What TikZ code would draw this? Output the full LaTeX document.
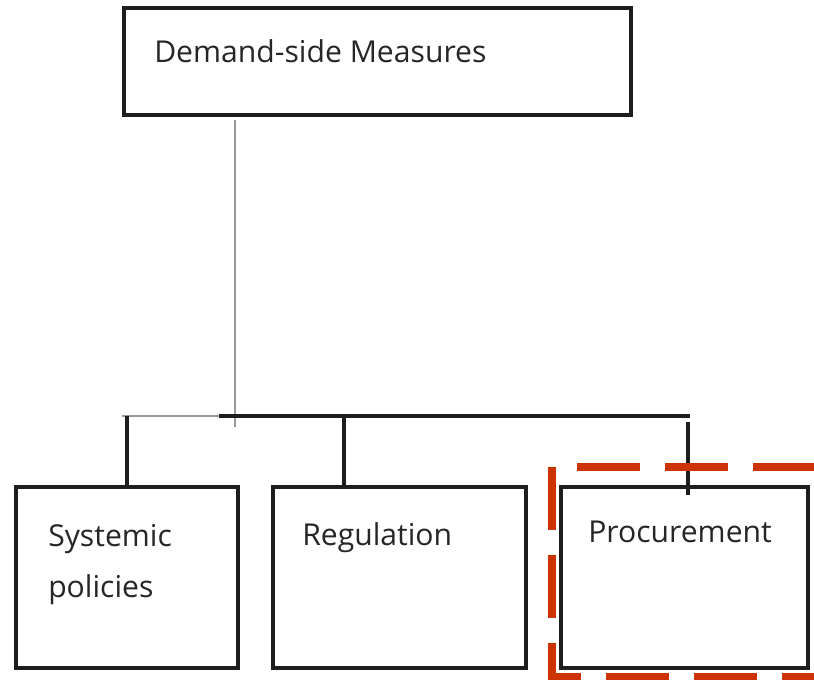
\documentclass[tikz,border=0pt]{standalone}
\usepackage{fontspec}
\setmainfont{Open Sans}
\definecolor{boxcol}{HTML}{1E1E1E}
\definecolor{textcol}{HTML}{262626}
\definecolor{redcol}{HTML}{CC3300}
\definecolor{lightgray}{HTML}{9A9A9A}
\begin{document}
\begin{tikzpicture}[x=0.75pt,y=-0.75pt,
  box/.style={draw=boxcol, line width=2.5pt, rectangle, inner sep=0pt, outer sep=0pt},
  lbl/.style={anchor=base west, inner sep=0pt, text=textcol, font=\fontsize{22.6pt}{39pt}\selectfont, align=left},
  conn/.style={draw=boxcol, line width=2.4pt},
  grayconn/.style={draw=lightgray, line width=1.8pt},
  redbox/.style={draw=redcol, line width=6pt, dash pattern=on 47.25pt off 18.75pt}]
\useasboundingbox (0,0) rectangle (814,680);
\clip (0,0) rectangle (814,680);
\fill[white] (0,0) rectangle (814,680);
% boxes
\node[box, minimum width=380.25pt, minimum height=80.25pt] (top) at (377.5,61.5) {};
\node[box, minimum width=166.5pt, minimum height=135.75pt] (sys) at (127,577.5) {};
\node[box, minimum width=189.75pt, minimum height=135.75pt] (reg) at (399.5,577.5) {};
\node[box, minimum width=185.25pt, minimum height=135.75pt] (proc) at (684.5,577.5) {};
% labels
\node[lbl] (ttop) at (154,63) {Demand-side Measures};
\node[lbl] (tsys) at (48,598) {Systemic\\policies};
\node[lbl] (treg) at (302,546) {Regulation};
\node[lbl] (tproc) at (588,542) {Procurement};
% bus
\coordinate (tap) at (235,427);
\coordinate (busL) at (122,416);
\coordinate (busG) at (219,416);
\coordinate (busR) at (690,416);
\coordinate (dropR) at (688,422);
\draw[grayconn] (top.south -| tap) ++(0,5) -- (tap);
\draw[grayconn] (busL) -- (busG);
\draw[conn] (busG) -- (busR);
\draw[conn] (sys.north) -- (sys.north |- busL);
\draw[conn] (reg.north -| 344,0) -- (busL -| 344,0);
\draw[conn] (dropR) -- ([yshift=-6pt]proc.north -| dropR);
% red dashed highlight
\draw[redbox] (552,467) -- (552,677) -- (840,677);
\draw[redbox] (577,467) -- (840,467);
\end{tikzpicture}
\end{document}
